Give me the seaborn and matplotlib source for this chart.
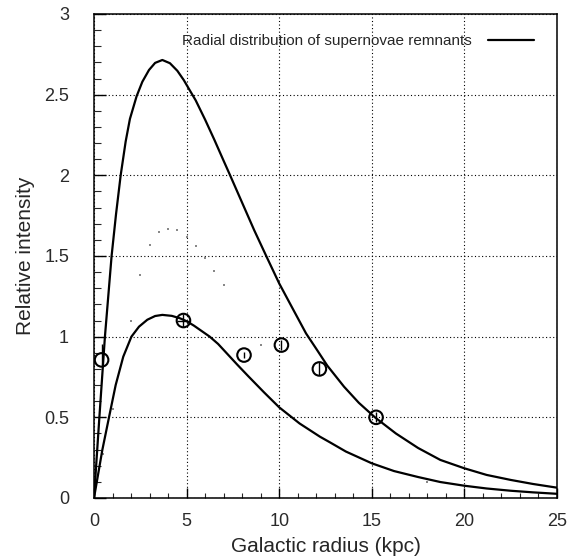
import numpy as np
import pandas as pd
import matplotlib
matplotlib.use("Agg")
import matplotlib.pyplot as plt
import seaborn as sns

# ---- data ----
upper_r = [0, 0.29, 0.59, 0.95, 1.19, 1.44, 1.71, 1.94, 2.30, 2.61, 2.97, 3.3, 3.69, 4.1, 4.5,
           4.85, 5.13, 5.49, 6.0, 6.5, 7.0, 7.35, 8.0, 8.65, 9.3, 10.0, 10.7, 11.45, 12.0, 12.6,
           13.5, 14.3, 15.17, 16.3, 17.5, 18.7, 20.0, 21.2, 22.5, 23.7, 25.0]
upper_i = [0, 0.5, 1.0, 1.5, 1.76, 2.0, 2.21, 2.35, 2.49, 2.58, 2.653, 2.697, 2.715, 2.695, 2.648,
           2.59, 2.535, 2.465, 2.345, 2.22, 2.09, 2.0, 1.83, 1.66, 1.5, 1.33, 1.18, 1.02, 0.925, 0.82,
           0.69, 0.59, 0.5, 0.40, 0.31, 0.236, 0.184, 0.143, 0.112, 0.087, 0.064]

lower_r = [0, 0.45, 0.81, 1.17, 1.58, 2.02, 2.43, 2.88, 3.3, 3.69, 4.2, 4.64, 5.0, 5.4, 5.8,
           6.25, 6.7, 7.2, 7.74, 8.33, 9.18, 10.0, 11.1, 12.2, 12.74, 13.6, 15.0, 16.2, 17.5,
           18.7, 20.0, 21.2, 22.5, 23.7, 25.0]
lower_i = [0, 0.298, 0.5, 0.70, 0.876, 1.0, 1.062, 1.105, 1.128, 1.135, 1.129, 1.114, 1.096, 1.068, 1.036,
           1.0, 0.955, 0.893, 0.826, 0.755, 0.655, 0.562, 0.462, 0.38, 0.345, 0.288, 0.215, 0.167, 0.13,
           0.099, 0.076, 0.059, 0.045, 0.035, 0.026]

faint_r = [0.5, 1.0, 2.0, 2.5, 3.0, 3.5, 4.0, 4.5, 5.0, 5.5, 6.0, 6.5, 7.0, 9.0, 18.0]
faint_i = [0.27, 0.55, 1.10, 1.38, 1.57, 1.65, 1.67, 1.66, 1.62, 1.56, 1.49, 1.41, 1.32, 0.95, 0.10]

obs_r = [0.41, 4.83, 8.10, 10.12, 12.17, 15.23]
obs_i = [0.856, 1.10, 0.886, 0.948, 0.80, 0.50]
obs_err_lo = [0.03, 0.04, 0.02, 0.03, 0.04, 0.03]
obs_err_hi = [0.10, 0.04, 0.02, 0.03, 0.04, 0.03]
obs_xerr = [0.0, 0.35, 0.0, 0.0, 0.0, 0.0]

x_ticks = [0, 5, 10, 15, 20, 25]
y_ticks = [0, 0.5, 1, 1.5, 2, 2.5, 3]
y_tick_labels = ["0", "0.5", "1", "1.5", "2", "2.5", "3"]
legend_label = "Radial distribution of supernovae remnants"

# ---- plotting ----
sns.set_theme(style="white")
plt.rcParams['font.family'] = ['Liberation Sans', 'DejaVu Sans']

fig = plt.figure(figsize=(5.73, 5.58), dpi=100)
ax = fig.add_axes([94/573, 1 - 498/558, (557-94)/573, (498-14)/558])

df_up = pd.DataFrame({"r": upper_r, "i": upper_i})
df_lo = pd.DataFrame({"r": lower_r, "i": lower_i})
sns.lineplot(data=df_up, x="r", y="i", ax=ax, color="black", lw=1.6, sort=True,
             estimator=None, label=legend_label)
sns.lineplot(data=df_lo, x="r", y="i", ax=ax, color="black", lw=1.6, sort=True,
             estimator=None, label="_nolegend_")
for ln in ax.get_lines():
    ln.set_solid_joinstyle("round")

sns.scatterplot(x=faint_r, y=faint_i, ax=ax, color="#888888", s=2, marker="s",
                linewidth=0, legend=False)

ax.errorbar(obs_r, obs_i, yerr=[obs_err_lo, obs_err_hi], xerr=obs_xerr, fmt="none",
            ecolor="black", elinewidth=1.0, capsize=0, zorder=4)
sns.scatterplot(x=obs_r, y=obs_i, ax=ax, marker="o", s=95, facecolor="none",
                edgecolor="black", linewidth=1.5, legend=False, zorder=5)

ax.set_xlim(0, 25)
ax.set_ylim(0, 3)
ax.set_xticks(x_ticks)
ax.set_xticklabels([str(t) for t in x_ticks])
ax.set_yticks(y_ticks)
ax.set_yticklabels(y_tick_labels)
ax.set_xticks(np.arange(0, 25.01, 1), minor=True)
ax.set_yticks(np.arange(0, 3.001, 0.1), minor=True)

ax.grid(True, which="major", color="black", linestyle=(0, (1, 2.2)), linewidth=0.8)
ax.set_axisbelow(True)

ax.tick_params(axis="x", which="major", direction="in", length=7.5, width=1.0,
               pad=11, labelsize=13, colors="black", bottom=True, top=False)
ax.tick_params(axis="x", which="minor", direction="in", length=3.8, width=0.8,
               bottom=True, top=False)
ax.tick_params(axis="y", which="major", direction="in", length=8.5, width=1.0,
               pad=18, labelsize=13, colors="black", left=True, right=False)
ax.tick_params(axis="y", which="minor", direction="in", length=5, width=0.8,
               left=True, right=False)
for lab in ax.get_xticklabels() + ax.get_yticklabels():
    lab.set_color("#2a2a2a")

for s in ax.spines.values():
    s.set_color("black")
    s.set_linewidth(1.1)

ax.set_xlabel("Galactic radius (kpc)", fontsize=15)
ax.set_ylabel("Relative intensity", fontsize=15)
ax.xaxis.set_label_coords(0.5, -0.08)
ax.yaxis.set_label_coords(-0.128, 0.5)

leg = ax.legend(loc="upper right", bbox_to_anchor=(0.977, 0.983), frameon=False,
                fontsize=11, markerfirst=False, handlelength=3.0, handletextpad=1.1,
                borderpad=0.3)

fig.savefig("out.png", dpi=100)
